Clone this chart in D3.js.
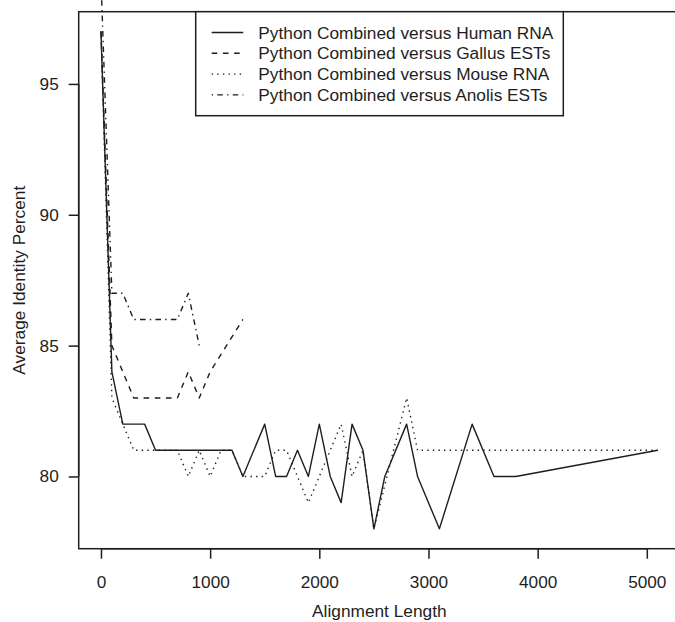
<!DOCTYPE html>
<html><head><meta charset="utf-8">
<script src="https://cdn.jsdelivr.net/npm/d3@7"></script>
<style>body{margin:0;background:#fff}text{font-family:"Liberation Sans",Arial,sans-serif;fill:#1e1e1e}</style>
</head><body>
<svg id="c" width="675" height="622"></svg>
<script>
const xHuman = [0,100,200,400,500,1200,1300,1500,1600,1700,1800,1900,2000,2100,2200,2300,2400,2500,2600,2800,2900,3100,3400,3600,3800,5100];
const yHuman = [97,84,82,82,81,81,80,82,80,80,81,80,82,80,79,82,81,78,80,82,80,78,82,80,80,81];
const xGallus = [0,100,300,700,800,900,1000,1300];
const yGallus = [97,85,83,83,84,83,84,86];
const xMouse = [0,100,200,300,700,800,900,1000,1100,1200,1300,1500,1600,1700,1900,2200,2300,2400,2500,2800,2900,5100];
const yMouse = [97,83,82,81,81,80,81,80,81,81,80,80,81,81,79,82,80,81,78,83,81,81];
const xAnolis = [0,100,200,300,700,800,900];
const yAnolis = [99,87,87,86,86,87,85];
const seriesNames = ["Python Combined versus Human RNA","Python Combined versus Gallus ESTs","Python Combined versus Mouse RNA","Python Combined versus Anolis ESTs"];
const xTicks = [0,1000,2000,3000,4000,5000];
const yTicks = [80,85,90,95];
const xTitle = "Alignment Length";
const yTitle = "Average Identity Percent";

const ink = "#1e1e1e";
const dashes = ["none","5.6,5.6","1.4,4.2","1.4,4.2,5.6,4.2"];
const L = 78.7, R = 680, T = 11.7, B = 548.7;
const x = d3.scaleLinear().domain([-204, 5304]).range([L, R]);
const y = d3.scaleLinear().domain([77.24, 97.76]).range([B, T]);
const svg = d3.select("#c");

const series = [[xHuman,yHuman],[xGallus,yGallus],[xMouse,yMouse],[xAnolis,yAnolis]];
const line = d3.line().x(d=>x(d[0])).y(d=>y(d[1]));
series.forEach((s,i)=>{
  const pts = s[0].map((v,j)=>[v,s[1][j]]);
  svg.append("path").attr("d", line(pts)).attr("fill","none").attr("stroke",ink)
    .attr("stroke-width",1.4).attr("stroke-dasharray",dashes[i]).attr("stroke-linejoin","round");
});

svg.append("rect").attr("x",L).attr("y",T).attr("width",R-L).attr("height",B-T)
  .attr("fill","none").attr("stroke",ink).attr("stroke-width",1.5);

const gx = svg.append("g").attr("transform",`translate(0,${B})`)
  .call(d3.axisBottom(x).tickValues(xTicks).tickSize(10).tickPadding(17).tickFormat(d3.format("d")));
gx.select(".domain").attr("d",`M${x(xTicks[0])},0H${x(xTicks[xTicks.length-1])}`).attr("stroke",ink).attr("stroke-width",1.5);
gx.selectAll(".tick line").attr("stroke",ink).attr("stroke-width",1.5);
gx.selectAll(".tick text").attr("font-size",17.2).attr("font-family","Liberation Sans").attr("fill",ink);

const gy = svg.append("g").attr("transform",`translate(${L},0)`)
  .call(d3.axisLeft(y).tickValues(yTicks).tickSize(10).tickPadding(10).tickFormat(d3.format("d")));
gy.select(".domain").attr("d",`M0,${y(yTicks[0])}V${y(yTicks[yTicks.length-1])}`).attr("stroke",ink).attr("stroke-width",1.5);
gy.selectAll(".tick line").attr("stroke",ink).attr("stroke-width",1.5);
gy.selectAll(".tick text").attr("font-size",17.2).attr("font-family","Liberation Sans").attr("fill",ink);

svg.append("text").attr("x",(L+R)/2).attr("y",616.5).attr("text-anchor","middle").attr("font-size",17.3).text(xTitle);
svg.append("text").attr("transform",`translate(24.5,${(T+B)/2}) rotate(-90)`).attr("text-anchor","middle").attr("font-size",17.3).text(yTitle);

// legend
const lg = svg.append("g");
lg.append("rect").attr("x",195.7).attr("y",T).attr("width",563.3-195.7).attr("height",115.7-T)
  .attr("fill","#fff").attr("stroke",ink).attr("stroke-width",1.5);
seriesNames.forEach((n,i)=>{
  const cy = 32.5 + i*20.8;
  lg.append("line").attr("x1",211.7).attr("x2",243.3).attr("y1",cy).attr("y2",cy)
    .attr("stroke",ink).attr("stroke-width",1.4).attr("stroke-dasharray",dashes[i]);
  lg.append("text").attr("x",258.3).attr("y",cy+6.1).attr("font-size",17.3).text(n);
});
</script>
</body></html>
